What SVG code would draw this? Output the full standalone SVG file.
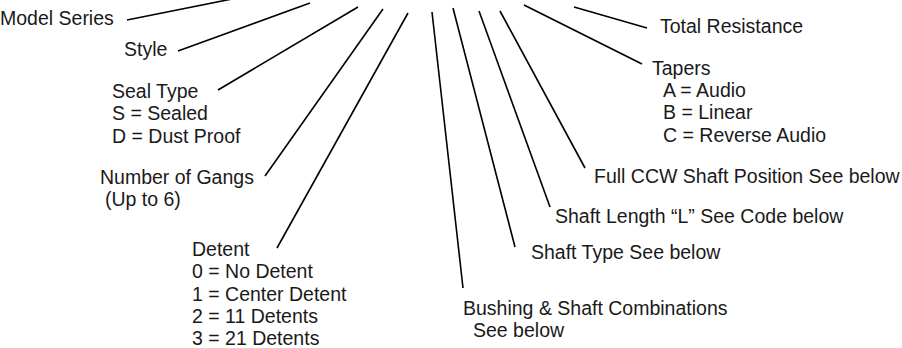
<svg xmlns="http://www.w3.org/2000/svg" width="902" height="348" viewBox="0 0 902 348">
<style>
text{font-family:"Liberation Sans",Arial,sans-serif;font-size:19.5px;fill:#1a1a1a}
.c line{stroke:#000;stroke-width:1.6;stroke-linecap:butt}
</style>
<rect width="902" height="348" fill="#fff"/>
<g class="c" id="connectors">
<line x1="127" y1="20" x2="232" y2="-1"/>
<line x1="178" y1="51" x2="310" y2="3"/>
<line x1="218" y1="90" x2="358" y2="7"/>
<line x1="265" y1="176" x2="383" y2="9"/>
<line x1="277" y1="248" x2="408" y2="13"/>
<line x1="463" y1="288" x2="432" y2="12"/>
<line x1="515" y1="247" x2="453" y2="8"/>
<line x1="550" y1="207" x2="479" y2="11"/>
<line x1="585" y1="168" x2="500" y2="11"/>
<line x1="642" y1="64" x2="524" y2="5"/>
<line x1="647" y1="28" x2="574" y2="7"/>
</g>
<g id="model-series"><text x="0" y="25">Model Series</text></g>
<g id="style"><text x="124" y="56">Style</text></g>
<g id="seal-type"><text x="112" y="98">Seal Type</text><text x="112" y="120">S = Sealed</text><text x="112" y="143">D = Dust Proof</text></g>
<g id="gangs"><text x="100" y="184">Number of Gangs</text><text x="105" y="206">(Up to 6)</text></g>
<g id="detent"><text x="192" y="256">Detent</text><text x="192" y="278">0 = No Detent</text><text x="192" y="300.5">1 = Center Detent</text><text x="192" y="322.5">2 = 11 Detents</text><text x="192" y="344.5">3 = 21 Detents</text></g>
<g id="bushing"><text x="463" y="315">Bushing &amp; Shaft Combinations</text><text x="473" y="337">See below</text></g>
<g id="shaft-type"><text x="531" y="259">Shaft Type See below</text></g>
<g id="shaft-length"><text x="555" y="223">Shaft Length “L” See Code below</text></g>
<g id="ccw"><text x="594" y="183">Full CCW Shaft Position See below</text></g>
<g id="tapers"><text x="652" y="75">Tapers</text><text x="663" y="97">A = Audio</text><text x="663" y="119">B = Linear</text><text x="663" y="142">C = Reverse Audio</text></g>
<g id="total-resistance"><text x="660" y="33">Total Resistance</text></g>
</svg>
